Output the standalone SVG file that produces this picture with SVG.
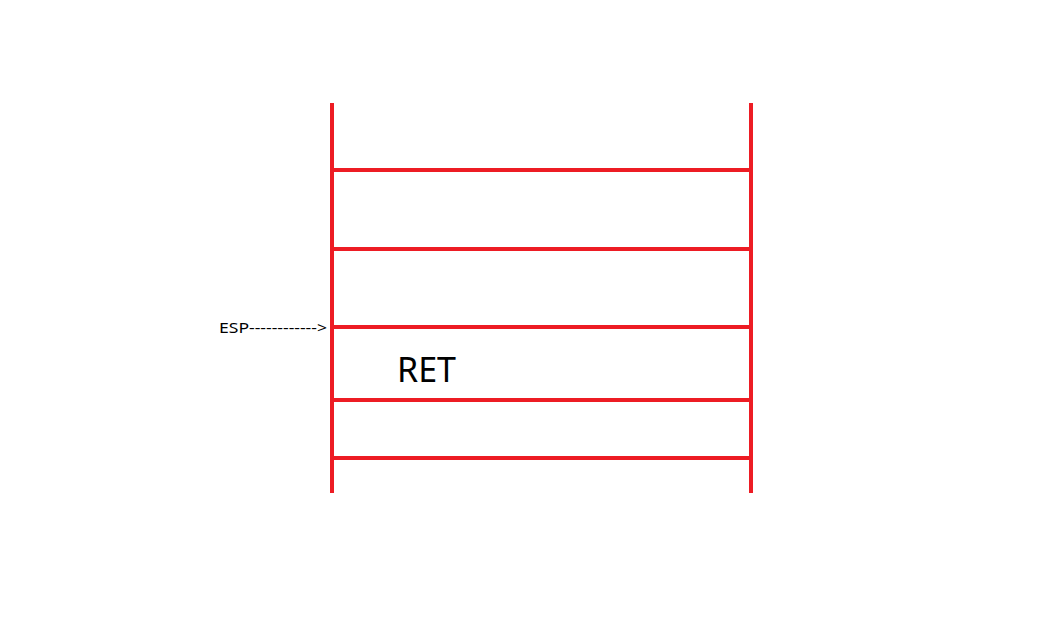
<svg xmlns="http://www.w3.org/2000/svg" width="1060" height="624" viewBox="0 0 1060 624">
<style>
.ln{stroke:#ed1c24;stroke-width:4;fill:none}
.t{font-family:"Noto Sans","Open Sans",sans-serif;fill:#000}
</style>
<rect width="1060" height="624" fill="#fff"/>
<g id="stack">
<line class="ln" x1="332" y1="103" x2="332" y2="493"/>
<line class="ln" x1="751" y1="103" x2="751" y2="493"/>
<line class="ln" x1="332" y1="170" x2="751" y2="170"/>
<line class="ln" x1="332" y1="249" x2="751" y2="249"/>
<line class="ln" x1="332" y1="327" x2="751" y2="327"/>
<line class="ln" x1="332" y1="400" x2="751" y2="400"/>
<line class="ln" x1="332" y1="458" x2="751" y2="458"/>
</g>
<g id="esp"><text class="t" x="219" y="332.5" font-size="13.5" textLength="108" lengthAdjust="spacingAndGlyphs">ESP------------&gt;</text></g>
<g id="ret"><text class="t" x="397" y="382" font-size="34">RET</text></g>
</svg>
